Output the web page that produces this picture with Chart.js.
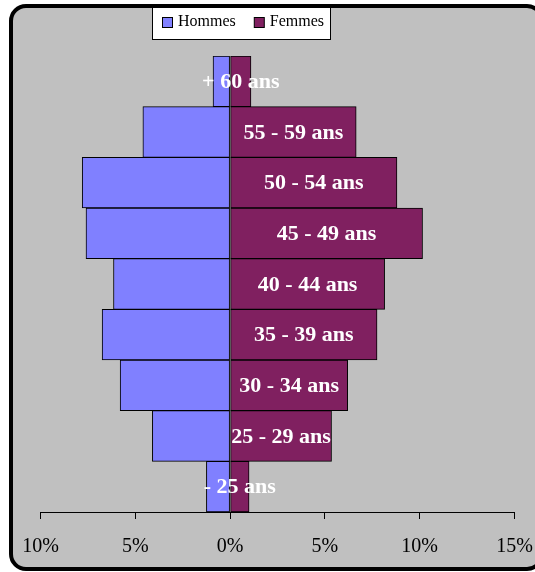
<!DOCTYPE html>
<html>
<head>
<meta charset="utf-8">
<script src="https://cdn.jsdelivr.net/npm/chart.js@4"></script>
<style>
  html, body { margin: 0; padding: 0; background: #fff; overflow: hidden; }
  #page { position: relative; width: 535px; height: 572px; overflow: hidden; }
  #cadre {
    position: absolute; left: 9px; top: 4px; width: 535px; height: 567px;
    box-sizing: border-box; border: 4px solid #000; border-radius: 17px;
    background: #c0c0c0;
  }
  #zone { position: absolute; left: 0; top: 0; width: 535px; height: 572px; }
</style>
</head>
<body>
<div id="page">
  <div id="cadre"></div>
  <div id="zone"><canvas id="pyramide"></canvas></div>
</div>
<script>
// DONNEES
const tranches = ['+ 60 ans', '55 - 59 ans', '50 - 54 ans', '45 - 49 ans', '40 - 44 ans',
                  '35 - 39 ans', '30 - 34 ans', '25 - 29 ans', '- 25 ans'];
const hommes = [0.9, 4.6, 7.8, 7.6, 6.15, 6.75, 5.8, 4.1, 1.25];
const femmes = [1.1, 6.65, 8.8, 10.15, 8.15, 7.75, 6.2, 5.35, 1.0];
const graduations = [-10, -5, 0, 5, 10, 15];

const couleurHommes = '#8080ff';
const couleurFemmes = '#802060';
const police = '"Liberation Serif", "Times New Roman", serif';

// etiquettes des tranches au milieu des barres femmes
const etiquettes = {
    id: 'etiquettes',
    afterDatasetsDraw(chart) {
        const ctx = chart.ctx;
        const meta = chart.getDatasetMeta(1);
        ctx.save();
        ctx.fillStyle = '#fff';
        ctx.font = 'bold 22px ' + police;
        ctx.textAlign = 'center';
        ctx.textBaseline = 'middle';
        meta.data.forEach(function (barre, i) {
            ctx.fillText(tranches[i], (barre.x + barre.base) / 2, barre.y + 1);
        });
        ctx.restore();
    }
};

// legende encadree
const legende = {
    id: 'legende',
    afterDraw(chart) {
        const ctx = chart.ctx;
        ctx.save();
        ctx.fillStyle = '#fff';
        ctx.fillRect(152.5, 7.5, 178, 32);
        ctx.strokeStyle = '#000';
        ctx.lineWidth = 1;
        ctx.strokeRect(152.5, 7.5, 178, 32);
        ctx.font = '16px ' + police;
        ctx.textBaseline = 'middle';
        let x = 162;
        chart.data.datasets.forEach(function (ds) {
            ctx.fillStyle = ds.backgroundColor;
            ctx.fillRect(x + 0.5, 17.5, 10, 10);
            ctx.strokeRect(x + 0.5, 17.5, 10, 10);
            ctx.fillStyle = '#000';
            ctx.fillText(ds.label, x + 16, 22);
            x += 16 + ctx.measureText(ds.label).width + 18;
        });
        ctx.restore();
    }
};

new Chart(document.getElementById('pyramide'), {
    type: 'bar',
    data: {
        labels: tranches,
        datasets: [{
            label: 'Hommes',
            data: hommes.map(v => -v),
            backgroundColor: couleurHommes,
            borderColor: '#000',
            borderWidth: 1,
            borderSkipped: false
        }, {
            label: 'Femmes',
            data: femmes,
            backgroundColor: couleurFemmes,
            borderColor: '#000',
            borderWidth: 1,
            borderSkipped: false
        }]
    },
    options: {
        indexAxis: 'y',
        responsive: true,
        maintainAspectRatio: false,
        animation: false,
        events: [],
        barPercentage: 1,
        categoryPercentage: 1,
        layout: {
            padding: { top: 56, left: 40.5, right: 20.5, bottom: 0 }
        },
        plugins: {
            legend: { display: false },
            tooltip: { enabled: false }
        },
        scales: {
            y: {
                stacked: true,
                display: false
            },
            x: {
                stacked: true,
                min: -10,
                max: 15,
                afterBuildTicks: function (axe) {
                    axe.ticks = graduations.map(v => ({ value: v }));
                },
                afterFit: function (axe) {
                    axe.height = 60;
                    axe.paddingLeft = 0;
                    axe.paddingRight = 0;
                },
                grid: {
                    drawOnChartArea: false,
                    drawTicks: true,
                    tickLength: 7,
                    color: '#000'
                },
                border: { display: true, color: '#000', width: 1 },
                ticks: {
                    padding: 16,
                    color: '#000',
                    font: { family: police, size: 20 },
                    maxRotation: 0,
                    callback: function (v) { return Math.abs(v) + '%'; }
                }
            }
        }
    },
    plugins: [etiquettes, legende]
});
</script>
</body>
</html>
